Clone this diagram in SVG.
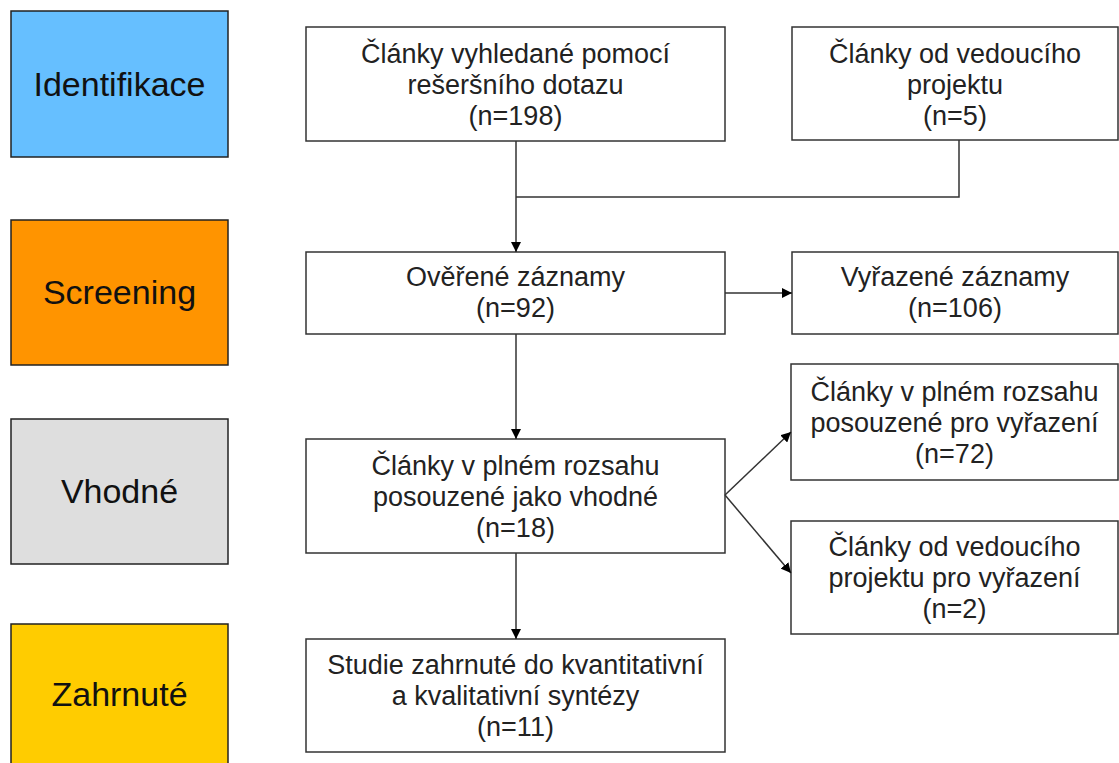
<svg xmlns="http://www.w3.org/2000/svg" width="1119" height="763" viewBox="0 0 1119 763">
<defs>
<marker id="ah" markerWidth="10" markerHeight="10" refX="10" refY="5" orient="auto" markerUnits="userSpaceOnUse">
<path d="M0,0 L10,5 L0,10 Z" fill="#000"/>
</marker>
</defs>
<style>
.stage{stroke:#222;stroke-width:1.5}
.box{fill:#fff;stroke:#333;stroke-width:1.5}
.st{font-family:"Liberation Sans",Arial,sans-serif;font-size:34px;fill:#111;text-anchor:middle}
.t{font-family:"Liberation Sans",Arial,sans-serif;font-size:27px;fill:#222;text-anchor:middle}
.c{fill:none;stroke:#333;stroke-width:1.5}
</style>
<rect width="1119" height="763" fill="#fff"/>
<g id="stage-identifikace"><rect class="stage" x="11" y="11" width="217" height="146" fill="#66BFFF"/><text class="st" x="119.5" y="96">Identifikace</text></g>
<g id="stage-screening"><rect class="stage" x="11" y="220" width="217" height="145" fill="#FF9400"/><text class="st" x="119.5" y="304">Screening</text></g>
<g id="stage-vhodne"><rect class="stage" x="11" y="419" width="217" height="145" fill="#DEDEDE"/><text class="st" x="119.5" y="503">Vhodné</text></g>
<g id="stage-zahrnute"><rect class="stage" x="11" y="624" width="217" height="150" fill="#FFCC00"/><text class="st" x="119.5" y="706">Zahrnuté</text></g>

<g id="n-search"><rect class="box" x="306" y="27" width="419" height="114"/>
<text class="t" x="515.5" y="63">Články vyhledané pomocí</text>
<text class="t" x="515.5" y="94">rešeršního dotazu</text>
<text class="t" x="515.5" y="125">(n=198)</text></g>
<g id="n-supervisor"><rect class="box" x="792" y="27" width="326" height="113"/>
<text class="t" x="955" y="63">Články od vedoucího</text>
<text class="t" x="955" y="94">projektu</text>
<text class="t" x="955" y="125">(n=5)</text></g>
<g id="n-verified"><rect class="box" x="306" y="252" width="419" height="82"/>
<text class="t" x="515.5" y="286">Ověřené záznamy</text>
<text class="t" x="515.5" y="317">(n=92)</text></g>
<g id="n-excluded"><rect class="box" x="792" y="252" width="326" height="82"/>
<text class="t" x="955" y="286">Vyřazené záznamy</text>
<text class="t" x="955" y="317">(n=106)</text></g>
<g id="n-eligible"><rect class="box" x="306" y="439" width="419" height="114"/>
<text class="t" x="515.5" y="475">Články v plném rozsahu</text>
<text class="t" x="515.5" y="506">posouzené jako vhodné</text>
<text class="t" x="515.5" y="537">(n=18)</text></g>
<g id="n-fulltext-excl"><rect class="box" x="791" y="364" width="327" height="116"/>
<text class="t" x="954.5" y="401">Články v plném rozsahu</text>
<text class="t" x="954.5" y="432">posouzené pro vyřazení</text>
<text class="t" x="954.5" y="463">(n=72)</text></g>
<g id="n-supervisor-excl"><rect class="box" x="791" y="521" width="327" height="113"/>
<text class="t" x="954.5" y="556">Články od vedoucího</text>
<text class="t" x="954.5" y="587">projektu pro vyřazení</text>
<text class="t" x="954.5" y="618">(n=2)</text></g>
<g id="n-included"><rect class="box" x="306" y="639" width="419" height="113"/>
<text class="t" x="515.5" y="674">Studie zahrnuté do kvantitativní</text>
<text class="t" x="515.5" y="705">a kvalitativní syntézy</text>
<text class="t" x="515.5" y="736">(n=11)</text></g>

<g id="connectors">
<line class="c" x1="516" y1="141" x2="516" y2="252" marker-end="url(#ah)"/>
<polyline class="c" points="959,140 959,197 516,197"/>
<line class="c" x1="725" y1="293" x2="792" y2="293" marker-end="url(#ah)"/>
<line class="c" x1="516" y1="334" x2="516" y2="439" marker-end="url(#ah)"/>
<line class="c" x1="725" y1="495" x2="791" y2="432" marker-end="url(#ah)"/>
<line class="c" x1="725" y1="495" x2="791" y2="573" marker-end="url(#ah)"/>
<line class="c" x1="516" y1="553" x2="516" y2="639" marker-end="url(#ah)"/>
</g>
</svg>
